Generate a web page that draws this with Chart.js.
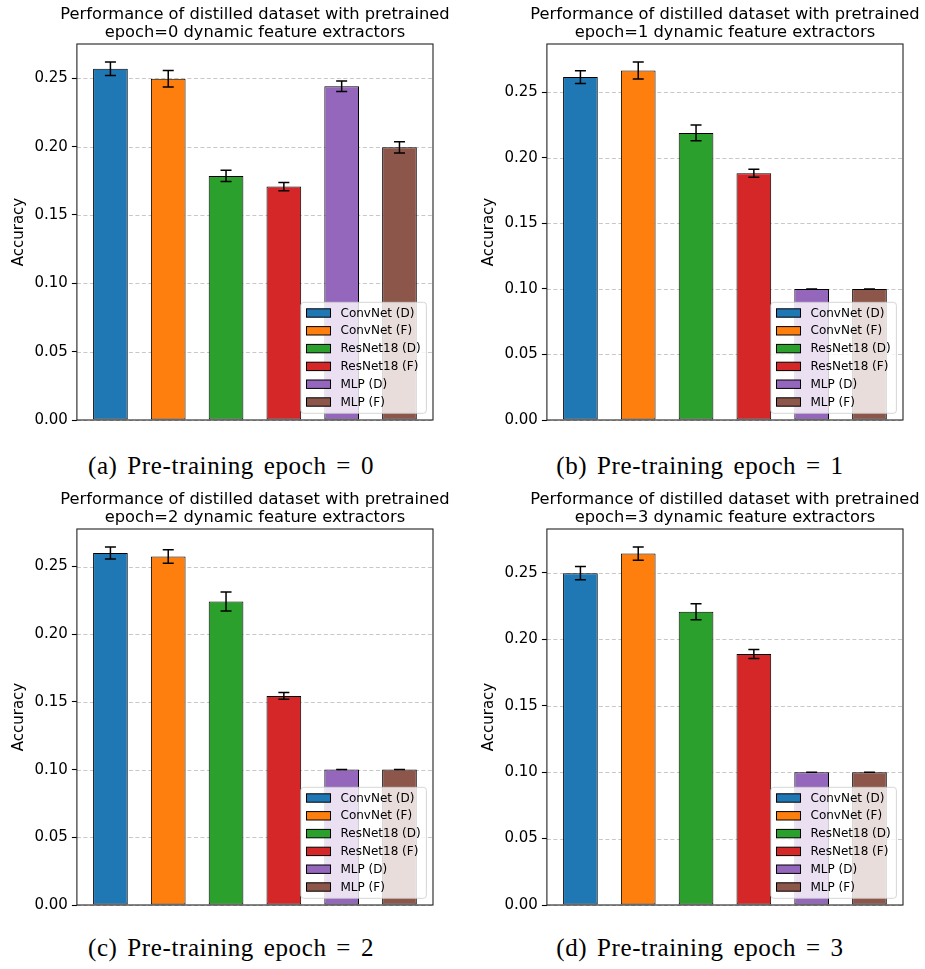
<!DOCTYPE html>
<html>
<head>
<meta charset="utf-8">
<script src="https://cdn.jsdelivr.net/npm/chart.js@4.4.1/dist/chart.umd.min.js"></script>
<style>
  html, body { margin: 0; padding: 0; background: #fff; }
  #fig { position: relative; width: 925px; height: 969px; overflow: hidden; background: #fff; }
  canvas { position: absolute; }
  .cap { position: absolute; width: 462px; text-align: center; font-family: 'Liberation Serif', 'DejaVu Serif', serif;
         font-size: 25px; line-height: 28px; letter-spacing: 0.6px; word-spacing: 3px; color: #000; white-space: nowrap; }
</style>
</head>
<body>
<div id="fig">
  <canvas id="p0" width="462" height="434" style="left:0px;top:0px"></canvas>
  <canvas id="p1" width="462" height="434" style="left:470px;top:0px"></canvas>
  <canvas id="p2" width="462" height="434" style="left:0px;top:485px"></canvas>
  <canvas id="p3" width="462" height="434" style="left:470px;top:485px"></canvas>
  <div class="cap" style="left:0px;top:452px">(a) Pre-training epoch = 0</div>
  <div class="cap" style="left:469px;top:452px">(b) Pre-training epoch = 1</div>
  <div class="cap" style="left:0px;top:934px">(c) Pre-training epoch = 2</div>
  <div class="cap" style="left:469px;top:934px">(d) Pre-training epoch = 3</div>
</div>
<script>
// Feature extractor variants (one bar each)
const categories = ['ConvNet (D)', 'ConvNet (F)', 'ResNet18 (D)', 'ResNet18 (F)', 'MLP (D)', 'MLP (F)'];

// Mean accuracy and std for each pre-training epoch
const accEpoch0 = [0.2570, 0.2497, 0.1786, 0.1708, 0.2442, 0.1995];
const errEpoch0 = [0.0050, 0.0060, 0.0041, 0.0030, 0.0038, 0.0041];
const accEpoch1 = [0.2617, 0.2668, 0.2191, 0.1883, 0.1000, 0.1000];
const errEpoch1 = [0.0048, 0.0065, 0.0060, 0.0030, 0.0000, 0.0000];
const accEpoch2 = [0.2600, 0.2574, 0.2241, 0.1544, 0.1000, 0.1000];
const errEpoch2 = [0.0045, 0.0050, 0.0070, 0.0025, 0.0000, 0.0000];
const accEpoch3 = [0.2498, 0.2646, 0.2208, 0.1889, 0.1000, 0.1000];
const errEpoch3 = [0.0050, 0.0050, 0.0060, 0.0034, 0.0000, 0.0000];

const yTickValues = [0.00, 0.05, 0.10, 0.15, 0.20, 0.25];

const barColors = ['#1f77b4', '#ff7f0e', '#2ca02c', '#d62728', '#9467bd', '#8c564b'];
const FONT = "'DejaVu Sans', 'Liberation Sans', sans-serif";

// Two-line title centred over the plot area (may be wider than the plot)
const axesTitlePlugin = {
  id: 'axesTitle',
  afterDraw(chart, args, opts) {
    const { ctx, chartArea: a } = chart;
    ctx.save();
    ctx.font = '16.3px ' + FONT;
    ctx.fillStyle = '#000';
    ctx.textAlign = 'center';
    ctx.textBaseline = 'alphabetic';
    const cx = (a.left + a.right) / 2;
    opts.lines.forEach((t, i) => ctx.fillText(t, cx, 19.3 + 18 * i));
    ctx.restore();
  }
};

// Dashed horizontal grid behind the bars
const gridPlugin = {
  id: 'dashedGrid',
  beforeDatasetsDraw(chart) {
    const { ctx, chartArea: a, scales: { y } } = chart;
    ctx.save();
    ctx.strokeStyle = 'rgba(176,176,176,0.7)';
    ctx.lineWidth = 1;
    ctx.setLineDash([4, 2.5]);
    y.ticks.forEach(t => {
      const py = Math.round(y.getPixelForValue(t.value)) + 0.5;
      ctx.beginPath();
      ctx.moveTo(a.left, py);
      ctx.lineTo(a.right, py);
      ctx.stroke();
    });
    ctx.restore();
  }
};

// Error bars with caps, drawn on top of the bars
const errorBarPlugin = {
  id: 'errorBars',
  afterDatasetsDraw(chart, args, opts) {
    const { ctx, scales: { x, y } } = chart;
    const ds = chart.data.datasets[0];
    ctx.save();
    ctx.strokeStyle = '#000';
    ctx.lineWidth = 1.5;
    ds.data.forEach((pt, i) => {
      const e = opts.errors[i];
      const px = x.getPixelForValue(pt.x);
      const yHi = y.getPixelForValue(pt.y + e);
      const yLo = y.getPixelForValue(pt.y - e);
      ctx.beginPath();
      ctx.moveTo(px, yHi); ctx.lineTo(px, yLo);
      ctx.moveTo(px - 5.5, yHi); ctx.lineTo(px + 5.5, yHi);
      ctx.moveTo(px - 5.5, yLo); ctx.lineTo(px + 5.5, yLo);
      ctx.stroke();
    });
    ctx.restore();
  }
};

// Legend placed inside the lower-right corner of the plot, then the axes frame
const insideLegendPlugin = {
  id: 'insideLegend',
  afterDraw(chart) {
    const { ctx, chartArea: a } = chart;
    const ds = chart.data.datasets[0];
    ctx.save();
    ctx.font = '12px ' + FONT;
    const tw = Math.max(...categories.map(c => ctx.measureText(c).width));
    const pad = 5.7, hl = 24, hh = 8.4, gap = 10, row = 17.8;
    const w = pad + hl + gap + tw + pad;
    const h = 10.7 + row * (categories.length - 1) + 11.3;
    const right = a.right - 6.6, bottom = a.bottom - 6.7;
    const left = right - w, top = bottom - h;
    ctx.beginPath();
    ctx.roundRect(left, top, w, h, 3);
    ctx.fillStyle = 'rgba(255,255,255,0.8)';
    ctx.fill();
    ctx.strokeStyle = 'rgba(204,204,204,0.8)';
    ctx.lineWidth = 1;
    ctx.stroke();
    categories.forEach((c, i) => {
      const cy = top + 10.7 + row * i;
      ctx.fillStyle = ds.backgroundColor[i];
      ctx.fillRect(left + pad, cy - hh / 2, hl, hh);
      ctx.strokeStyle = '#000';
      ctx.lineWidth = 1;
      ctx.strokeRect(left + pad, cy - hh / 2, hl, hh);
      ctx.fillStyle = '#000';
      ctx.textBaseline = 'middle';
      ctx.textAlign = 'left';
      ctx.fillText(c, left + pad + hl + gap, cy + 0.5);
    });
    // axes frame
    ctx.strokeStyle = '#222';
    ctx.lineWidth = 1.1;
    ctx.strokeRect(a.left, a.top, a.right - a.left, a.bottom - a.top);
    ctx.restore();
  }
};

function makePanel(id, epoch, acc, err) {
  const yMax = 1.05 * Math.max(...acc.map((v, i) => v + err[i]));
  return new Chart(document.getElementById(id), {
    type: 'bar',
    data: {
      datasets: [{
        label: 'Accuracy',
        data: acc.map((v, i) => ({ x: i, y: v })),
        backgroundColor: barColors,
        borderColor: '#000',
        borderWidth: 1,
        borderSkipped: false,
        categoryPercentage: 0.6,
        barPercentage: 1.0
      }]
    },
    options: {
      responsive: false,
      animation: false,
      events: [],
      layout: { padding: { left: 4, right: 29, top: 44, bottom: 14 } },
      plugins: {
        legend: { display: false },
        tooltip: { enabled: false },
        title: { display: false },
        axesTitle: {
          lines: ['Performance of distilled dataset with pretrained',
                  'epoch=' + epoch + ' dynamic feature extractors']
        },
        errorBars: { errors: err }
      },
      scales: {
        x: {
          type: 'linear',
          offset: false,
          min: -0.58,
          max: categories.length - 1 + 0.58,
          display: false
        },
        y: {
          type: 'linear',
          min: 0,
          max: yMax,
          afterBuildTicks: scale => { scale.ticks = yTickValues.map(v => ({ value: v })); },
          border: { display: false },
          grid: { display: true, drawOnChartArea: false, drawTicks: true,
                  tickLength: 5, tickColor: '#000', tickWidth: 1.1 },
          ticks: {
            color: '#000',
            padding: 4,
            font: { family: FONT, size: 15 },
            callback: v => Number(v).toFixed(2)
          },
          title: {
            display: true,
            text: 'Accuracy',
            color: '#000',
            font: { family: FONT, size: 15, lineHeight: 1.2 },
            padding: { top: 6, bottom: 2.5 }
          }
        }
      }
    },
    plugins: [gridPlugin, errorBarPlugin, insideLegendPlugin, axesTitlePlugin]
  });
}

makePanel('p0', 0, accEpoch0, errEpoch0);
makePanel('p1', 1, accEpoch1, errEpoch1);
makePanel('p2', 2, accEpoch2, errEpoch2);
makePanel('p3', 3, accEpoch3, errEpoch3);
</script>
</body>
</html>
